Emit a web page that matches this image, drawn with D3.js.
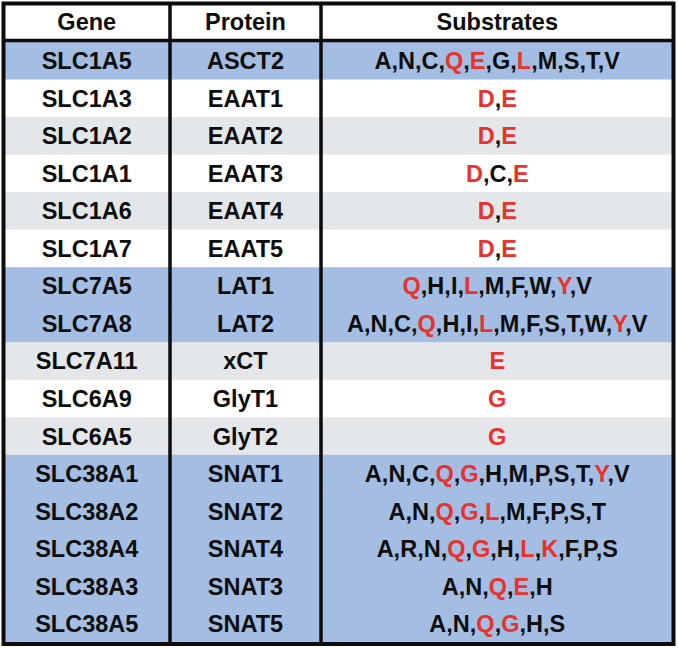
<!DOCTYPE html>
<html>
<head>
<meta charset="utf-8">
<script src="https://cdn.jsdelivr.net/npm/d3@7"></script>
<style>
  body { margin: 0; background: #fff; }
  text { font-family: "Liberation Sans", Arial, sans-serif; font-weight: bold; }
</style>
</head>
<body>
<svg width="678" height="648"></svg>
<script>
// table content
var headers = ["Gene", "Protein", "Substrates"];
var genes = ["SLC1A5", "SLC1A3", "SLC1A2", "SLC1A1", "SLC1A6", "SLC1A7", "SLC7A5", "SLC7A8",
  "SLC7A11", "SLC6A9", "SLC6A5", "SLC38A1", "SLC38A2", "SLC38A4", "SLC38A3", "SLC38A5"];
var proteins = ["ASCT2", "EAAT1", "EAAT2", "EAAT3", "EAAT4", "EAAT5", "LAT1", "LAT2",
  "xCT", "GlyT1", "GlyT2", "SNAT1", "SNAT2", "SNAT4", "SNAT3", "SNAT5"];
var substrates = [
  "A,N,C,Q,E,G,L,M,S,T,V", "D,E", "D,E", "D,C,E", "D,E", "D,E",
  "Q,H,I,L,M,F,W,Y,V", "A,N,C,Q,H,I,L,M,F,S,T,W,Y,V", "E", "G", "G",
  "A,N,C,Q,G,H,M,P,S,T,Y,V", "A,N,Q,G,L,M,F,P,S,T", "A,R,N,Q,G,H,L,K,F,P,S",
  "A,N,Q,E,H", "A,N,Q,G,H,S"];
// letters drawn in red for each row
var highlighted = [
  "QEL", "DE", "DE", "DE", "DE", "DE", "QLY", "QLY", "E", "G", "G",
  "QGY", "QGL", "QGLK", "QE", "QG"];
// row shading: b = blue, w = white, g = grey
var shading = ["b", "w", "g", "w", "g", "w", "b", "b", "g", "w", "g", "b", "b", "b", "b", "b"];

var fills = { b: "#a3bde3", w: "#ffffff", g: "#e4e7ea" };
var red = "#e8322b";
var ink = "#0d0d0d";

var svg = d3.select("svg");
// (don't name these "top": window.top is read-only)
var x0 = 3.5, x1 = 673.5, yTop = 3.5, headBottom = 40.5, yBottom = 644;
var colEdges = [x0, 170, 321, x1];

var y = d3.scaleBand()
    .domain(d3.range(genes.length))
    .range([headBottom + 1.5, yBottom - 1.5]);

var rows = svg.append("g").selectAll("g")
    .data(genes)
    .enter().append("g")
    .attr("transform", function(d, i) { return "translate(0," + y(i) + ")"; });

rows.append("rect")
    .attr("x", x0)
    .attr("width", x1 - x0)
    .attr("height", y.bandwidth() + 0.5)
    .attr("fill", function(d, i) { return fills[shading[i]]; });

var fs = 23.5;
var base = fs * 0.36;
function cx(c) { return (colEdges[c] + colEdges[c + 1]) / 2; }

rows.append("text")
    .attr("x", cx(0)).attr("y", y.bandwidth() / 2 + base)
    .attr("text-anchor", "middle").attr("font-size", fs).attr("fill", ink)
    .text(function(d) { return d; });

rows.append("text")
    .attr("x", cx(1)).attr("y", y.bandwidth() / 2 + base)
    .attr("text-anchor", "middle").attr("font-size", fs).attr("fill", ink)
    .text(function(d, i) { return proteins[i]; });

rows.append("text")
    .attr("x", cx(2)).attr("y", y.bandwidth() / 2 + base)
    .attr("text-anchor", "middle").attr("font-size", fs)
    .each(function(d, i) {
      var t = d3.select(this);
      var parts = substrates[i].split(",");
      parts.forEach(function(p, j) {
        t.append("tspan").attr("fill", highlighted[i].indexOf(p) >= 0 ? red : ink).text(p);
        if (j < parts.length - 1) t.append("tspan").attr("fill", ink).text(",");
      });
    });

// header
svg.selectAll(".head")
    .data(headers)
    .enter().append("text")
    .attr("class", "head")
    .attr("x", function(d, i) { return cx(i); })
    .attr("y", (yTop + headBottom) / 2 + base)
    .attr("text-anchor", "middle").attr("font-size", fs)
    .attr("fill", ink)
    .text(function(d) { return d; });

// grid lines
var lines = svg.append("g").attr("stroke", ink).attr("fill", "none");
lines.append("line").attr("x1", x0).attr("x2", x1)
    .attr("y1", headBottom).attr("y2", headBottom).attr("stroke-width", 3.5);
[1, 2].forEach(function(c) {
  lines.append("line").attr("x1", colEdges[c]).attr("x2", colEdges[c])
      .attr("y1", yTop).attr("y2", yBottom).attr("stroke-width", 3.5);
});
lines.append("rect").attr("x", x0).attr("y", yTop)
    .attr("width", x1 - x0).attr("height", yBottom - yTop)
    .attr("stroke-width", 4);
</script>
</body>
</html>
